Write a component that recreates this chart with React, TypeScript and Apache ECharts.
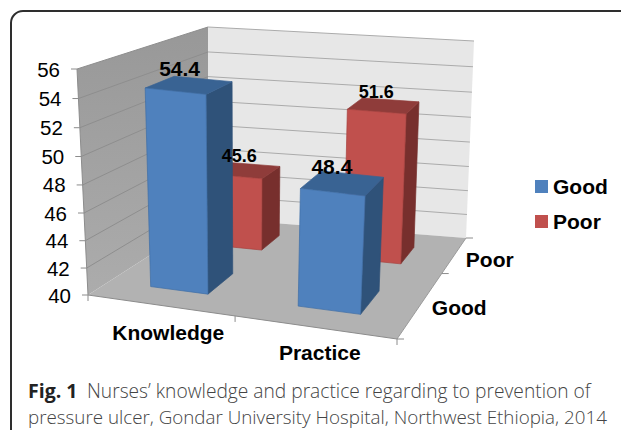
import React, { useEffect, useRef } from "react";
import * as echarts from "echarts";

const categories = ["Knowledge", "Practice"];
const depthCategories = ["Good", "Poor"];
const goodValues = [54.4, 48.4];
const poorValues = [45.6, 51.6];
const yTicks = [40, 42, 44, 46, 48, 50, 52, 54, 56];
const captionBold = "Fig. 1";
const captionLine1 = "Nurses\u2019 knowledge and practice regarding to prevention of";
const captionLine2 = "pressure ulcer, Gondar University Hospital, Northwest Ethiopia, 2014";

// box corners of the projected chart: [x, y] for (x, y, z) in {0,1}
const C: Record<string, number[]> = {
  "000": [88, 295], "100": [397, 339], "010": [77, 69], "110": [410, 106],
  "001": [208, 218], "101": [466, 238], "011": [208, 27], "111": [474, 41],
};
function P(x: number, y: number, z: number): number[] {
  const out = [0, 0];
  for (const a of [0, 1]) for (const b of [0, 1]) for (const c of [0, 1]) {
    const w = (a ? x : 1 - x) * (b ? y : 1 - y) * (c ? z : 1 - z);
    const p = C[`${a}${b}${c}`];
    out[0] += w * p[0];
    out[1] += w * p[1];
  }
  return out;
}
const xBands = [[0.137, 0.328], [0.629, 0.837]];
const zBands = [[0.18, 0.42], [0.7, 0.87]];
const xTickPos = [0, 0.476, 1];
const zTickPos = [0, 0.648, 1];
const perspective = 0.052;
const labelOffsets = [
  [[-9, -16], [-10, -16]],
  [[-5, -14], [-7, -14]],
];
const labelSizes = [[21, 21], [18, 18]];
const catLabelOffsets = [[3, 26], [0, 24]];
const depthLabelOffsets = [[45, -6], [41, -4]];
const FONT = "Liberation Sans";
const CAPTION_FONT = "Open Sans";
const GRIDL = { left: 88, top: 69, width: 309, height: 226 };

const faces = [
  { front: "#4f81bd", side: "#2f5279", top: "#396393", edge: "#3f6ea6" },
  { front: "#c0504d", side: "#772f2d", top: "#8f3c3a", edge: "#a8403d" },
];

const line = (a: number[], b: number[], stroke: string, lineWidth = 1) => ({
  type: "line",
  shape: { x1: a[0], y1: a[1], x2: b[0], y2: b[1] },
  style: { stroke, lineWidth },
});
const poly = (pts: number[][], fill: any, stroke?: string) => ({
  type: "polygon",
  shape: { points: pts },
  style: { fill, stroke: stroke || fill, lineWidth: stroke ? 0.7 : 0 },
});
const text = (s: string, x: number, y: number, size: number, weight: string, align = "center") => ({
  type: "text",
  style: { text: s, x, y, fontFamily: FONT, fontSize: size, fontWeight: weight, fill: "#000", align, verticalAlign: "middle" },
});

function tOf(api: any, v: number) {
  const y0 = api.coord([0, yTicks[0]])[1];
  const y1 = api.coord([0, yTicks[yTicks.length - 1]])[1];
  return (y0 - api.coord([0, v])[1]) / (y0 - y1);
}

const renderWalls = (_p: any, _api: any) => {
  const leftFill = new echarts.graphic.LinearGradient(0, 0, 0, 1, [
    { offset: 0, color: "#989898" },
    { offset: 1, color: "#acacac" },
  ]);
  const children: any[] = [
    poly([P(0, 0, 0), P(0, 1, 0), P(0, 1, 1), P(0, 0, 1)], leftFill),
    poly([P(0, 0, 1), P(0, 1, 1), P(1, 1, 1), P(1, 0, 1)], "#e7e7e7"),
    poly([P(0, 0, 0), P(1, 0, 0), P(1, 0, 1), P(0, 0, 1)], "#b2b2b2"),
    line(P(0, 0, 0), P(1, 0, 0), "#8c8c8c"),
    line(P(1, 0, 0), P(1, 0, 1), "#9a9a9a"),
    line(P(0, 0, 0), P(0, 1, 0), "#8c8c8c"),
  ];
  xTickPos.forEach((x) => {
    const a = P(x, 0, 0);
    children.push(line(a, [a[0], a[1] + 6], "#8c8c8c"));
  });
  zTickPos.forEach((z) => {
    const a = P(1, 0, z);
    children.push(line(a, [a[0] + 7, a[1]], "#8c8c8c"));
  });
  categories.forEach((c, i) => {
    const a = P(i === 0 ? 0.25 : 0.75, 0, 0);
    children.push(text(c, a[0] + catLabelOffsets[i][0], a[1] + catLabelOffsets[i][1], 21, "bold"));
  });
  depthCategories.forEach((c, i) => {
    const a = P(1, 0, i === 0 ? 0.25 : 0.75);
    children.push(text(c, a[0] + depthLabelOffsets[i][0], a[1] + depthLabelOffsets[i][1], 21, "bold"));
  });
  return { type: "group", children };
};

const renderGrid = (_p: any, api: any) => {
  const v = api.value(0);
  const t0 = tOf(api, v);
  const t = t0 - perspective * t0 * (1 - t0);
  const f = P(0, t, 0);
  const b = P(0, t, 1);
  const r = P(1, t, 1);
  const children: any[] = [
    line([f[0] - 6, f[1]], f, "#8c8c8c"),
    text(String(v), f[0] - 17, f[1], 20.5, "normal", "right"),
  ];
  if (v > yTicks[0]) {
    children.push(line(f, b, "#8e8e8e"));
    children.push(line(b, r, "#ababab"));
  }
  return { type: "group", children };
};

const renderBar = (s: number) => (_p: any, api: any) => {
  const i = api.value(0);
  const v = api.value(1);
  const t = tOf(api, v);
  const [x0, x1] = xBands[i];
  const [z0, z1] = zBands[s];
  const col = faces[s];
  const a0 = P(x0, 0, z0), a1 = P(x1, 0, z0), a2 = P(x1, 0, z1);
  const b0 = P(x0, t, z0), b1 = P(x1, t, z0), b2 = P(x1, t, z1), b3 = P(x0, t, z1);
  return {
    type: "group",
    children: [
      poly([a1, a2, b2, b1], col.side, col.side),
      poly([b0, b1, b2, b3], col.top, col.top),
      poly([a0, a1, b1, b0], col.front, col.edge),
    ],
  };
};

const renderLabel = (_p: any, api: any) => {
  const i = api.value(0);
  const v = api.value(1);
  const s = api.value(2);
  const t = tOf(api, v);
  const [x0, x1] = xBands[i];
  const [z0, z1] = zBands[s];
  const b0 = P(x0, t, z0), b2 = P(x1, t, z1);
  const off = labelOffsets[s][i];
  return text(v.toFixed(1), (b0[0] + b2[0]) / 2 + off[0], (b0[1] + b2[1]) / 2 + off[1], labelSizes[s][i], "bold");
};

export default function App() {
  const ref = useRef<HTMLDivElement>(null);
  useEffect(() => {
    document.body.style.margin = "0";
    const chart = echarts.init(ref.current!, null, { renderer: "svg" });
    chart.setOption({
      animation: false,
      backgroundColor: "#fff",
      grid: GRIDL,
      xAxis: { type: "category", data: categories, show: false },
      yAxis: { type: "value", min: 40, max: 56, interval: 2, show: false },
      legend: {
        data: depthCategories.map((name) => ({ name, icon: "rect" })),
        orient: "vertical",
        left: 530,
        top: 171,
        itemWidth: 13,
        itemHeight: 13,
        itemGap: 14,
        textStyle: { fontFamily: FONT, fontSize: 21, fontWeight: "bold", color: "#000" },
      },
      series: [
        { type: "custom", name: "frame", z: 1, clip: false, silent: true, data: [[0]], renderItem: renderWalls, encode: { x: 0 } },
        { type: "custom", name: "ticks", z: 2, clip: false, silent: true, data: yTicks.map((v) => [v]), renderItem: renderGrid, encode: { y: 0 } },
        { type: "custom", name: depthCategories[1], z: 3, clip: false, itemStyle: { color: faces[1].front, borderColor: faces[1].edge },
          data: poorValues.map((v, i) => [i, v]), renderItem: renderBar(1), encode: { x: 0, y: 1 } },
        { type: "custom", name: depthCategories[0], z: 4, clip: false, itemStyle: { color: faces[0].front, borderColor: faces[0].edge },
          data: goodValues.map((v, i) => [i, v]), renderItem: renderBar(0), encode: { x: 0, y: 1 } },
        { type: "custom", name: "labels", z: 5, clip: false, silent: true,
          data: [...goodValues.map((v, i) => [i, v, 0]), ...poorValues.map((v, i) => [i, v, 1])], renderItem: renderLabel, encode: { x: 0, y: 1 } },
      ],
      graphic: [
        { type: "rect", shape: { x: 11, y: 11, width: 800, height: 600, r: 12 }, style: { fill: "none", stroke: "#2e2e2e", lineWidth: 2 }, silent: true, z: 0 },
        { type: "text", x: 28, y: 390.5, style: { text: captionBold, fontFamily: CAPTION_FONT, fontWeight: "bold", fontSize: 19.5, fill: "#222", verticalAlign: "middle" } },
        { type: "text", x: 87, y: 390.5, style: { text: captionLine1, fontFamily: CAPTION_FONT, fontWeight: 300, fontSize: 19.2, fill: "#444", verticalAlign: "middle" } },
        { type: "text", x: 28, y: 416.5, style: { text: captionLine2, fontFamily: CAPTION_FONT, fontWeight: 300, fontSize: 18.8, fill: "#444", verticalAlign: "middle" } },
      ],
    });
    return () => chart.dispose();
  }, []);
  return <div ref={ref} style={{ width: 621, height: 430 }} />;
}
